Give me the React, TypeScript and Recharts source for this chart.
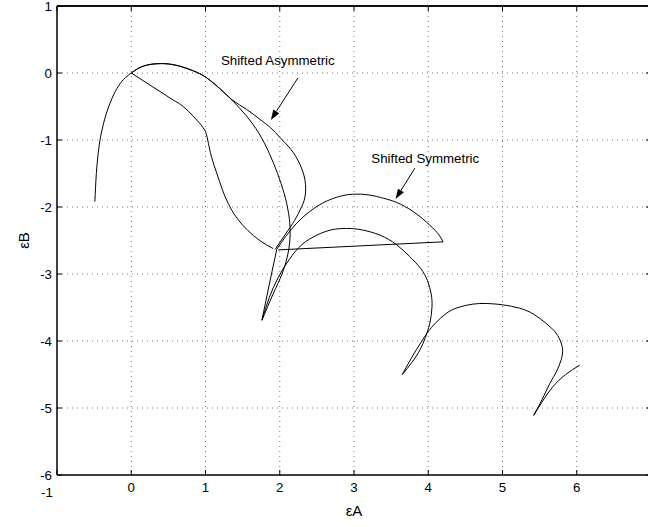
import React from 'react';
import { LineChart, Line, XAxis, YAxis, CartesianGrid, ReferenceLine, ReferenceDot } from 'recharts';

type Pt = { x: number; y: number };
const toPts = (a: number[][]): Pt[] => a.map(([x, y]) => ({ x, y }));

const xTicks = [-1, 0, 1, 2, 3, 4, 5, 6, 7];
const xTickLabels = [-1, 0, 1, 2, 3, 4, 5, 6];
const yTicks = [-6, -5, -4, -3, -2, -1, 0, 1];
const gridX = [0, 1, 2, 3, 4, 5, 6];
const gridY = [-5, -4, -3, -2, -1, 0];
const yMax = 1;

// main path: rise, arc, descending branch to first cusp
const mainRiseArc = toPts([
  [-0.49, -1.92], [-0.47, -1.5], [-0.44, -1.15], [-0.4, -0.88], [-0.34, -0.62], [-0.26, -0.38],
  [-0.17, -0.19], [-0.08, -0.07], [0, 0], [0.08, 0.06], [0.17, 0.105], [0.28, 0.132], [0.39, 0.14],
  [0.5, 0.135], [0.66, 0.1], [0.84, 0.03], [1.0, -0.06], [1.19, -0.23], [1.37, -0.42], [1.55, -0.64],
  [1.72, -0.9], [1.86, -1.2], [1.97, -1.5], [2.06, -1.8], [2.12, -2.1], [2.14, -2.4], [2.11, -2.7],
  [2.03, -3.0], [1.91, -3.3], [1.76, -3.69],
]);
const mainArch2 = toPts([
  [1.76, -3.69], [1.86, -3.35], [1.98, -3.05], [2.13, -2.78], [2.3, -2.56], [2.5, -2.42], [2.7, -2.34],
  [2.9, -2.32], [3.1, -2.34], [3.35, -2.42], [3.57, -2.56], [3.75, -2.74], [3.9, -2.92], [3.99, -3.1],
  [4.04, -3.3], [4.05, -3.5], [4.02, -3.74], [3.96, -3.95], [3.89, -4.13], [3.78, -4.32], [3.65, -4.5],
]);
const mainArch3 = toPts([
  [3.65, -4.5], [3.75, -4.3], [3.84, -4.13], [3.98, -3.89], [4.1, -3.73], [4.24, -3.59], [4.4, -3.5],
  [4.6, -3.45], [4.78, -3.44], [5.0, -3.46], [5.23, -3.51], [5.42, -3.6], [5.59, -3.74], [5.72, -3.88],
  [5.79, -4.03], [5.81, -4.15], [5.79, -4.28], [5.73, -4.45], [5.64, -4.63], [5.53, -4.88], [5.42, -5.11],
]);
const mainEnd = toPts([
  [5.42, -5.11], [5.55, -4.88], [5.68, -4.68], [5.85, -4.5], [6.04, -4.36],
]);

// shifted asymmetric loop
const asymOuter = toPts([
  [0, 0], [0.08, 0.06], [0.17, 0.105], [0.28, 0.132], [0.39, 0.14], [0.5, 0.135], [0.66, 0.1],
  [0.84, 0.03], [1.0, -0.06], [1.19, -0.23], [1.37, -0.41], [1.55, -0.54], [1.73, -0.69], [1.88, -0.82],
  [2.0, -0.96], [2.15, -1.14], [2.27, -1.36], [2.34, -1.6], [2.34, -1.85], [2.28, -2.03], [2.2, -2.2],
  [2.08, -2.4], [1.94, -2.63],
]);
const asymInnerA = toPts([[0, 0], [0.56, -0.4]]);
const asymInnerB = toPts([[0.56, -0.4], [0.7, -0.5], [0.83, -0.64], [0.93, -0.76], [1.0, -0.87]]);
const asymInnerC = toPts([
  [1.0, -0.87], [1.03, -1.0], [1.08, -1.25], [1.15, -1.49], [1.23, -1.75], [1.33, -2.0], [1.44, -2.19],
  [1.57, -2.35], [1.73, -2.5], [1.91, -2.62],
]);

// shifted symmetric loop
const symArc = toPts([
  [1.96, -2.63], [2.08, -2.44], [2.23, -2.24], [2.4, -2.07], [2.58, -1.94], [2.78, -1.85], [2.98, -1.81],
  [3.2, -1.82], [3.4, -1.87], [3.57, -1.93], [3.8, -2.07], [4.02, -2.27], [4.14, -2.41], [4.2, -2.52],
]);
const symBase = toPts([[4.2, -2.52], [1.98, -2.64]]);
const symLink = toPts([[1.76, -3.69], [1.86, -3.15], [1.96, -2.63]]);

const annotations = [
  { text: 'Shifted Asymmetric', tx: 1.974, ty: 0.194, from: { x: 2.244, y: -0.075 }, to: { x: 1.88, y: -0.7 } },
  { text: 'Shifted Symmetric', tx: 3.96, ty: -1.27, from: { x: 3.82, y: -1.42 }, to: { x: 3.56, y: -1.88 } },
];

const FONT = '"Liberation Sans", Arial, Helvetica, sans-serif';
const FS = 13.3;

// layout constants
const CHART_W = 660;
const CHART_H = 527;
const MARGIN = { top: 6, right: 9, bottom: 0, left: 0 };
const Y_AXIS_W = 57;
const X_AXIS_H = 52;
const PLOT_W = CHART_W - MARGIN.left - MARGIN.right - Y_AXIS_W;
const PLOT_H = CHART_H - MARGIN.top - MARGIN.bottom - X_AXIS_H;

const BottomTick = (props: any) => {
  const { x, y, payload } = props;
  const v = payload.value;
  const dx = v === -1 ? -10 : 0;
  const dy = v === -1 ? 5 : 0;
  const top = y - PLOT_H;
  return (
    <g>
      <line x1={x} x2={x} y1={y} y2={y - 5} stroke="#000" strokeWidth={1} />
      <line x1={x} x2={x} y1={top} y2={top + 5} stroke="#000" strokeWidth={1} />
      {xTickLabels.includes(v) && (
        <text x={x + dx} y={y + 17 + dy} textAnchor="middle" fontSize={FS} fontFamily={FONT} fill="#000">{v}</text>
      )}
    </g>
  );
};
const LeftTick = (props: any) => {
  const { x, y, payload } = props;
  const right = x + PLOT_W;
  return (
    <g>
      <line x1={x} x2={x + 5} y1={y} y2={y} stroke="#000" strokeWidth={1} />
      <line x1={right} x2={right - 5} y1={y} y2={y} stroke="#000" strokeWidth={1} />
      {payload.value === yMax && (
        <line x1={x} x2={right} y1={y} y2={y} stroke="#000" strokeWidth={1.5} />
      )}
      <text x={x - 5} y={y + 4.5} textAnchor="end" fontSize={FS} fontFamily={FONT} fill="#000">{payload.value}</text>
    </g>
  );
};

const Arrow = (props: any) => {
  const { x1, y1, x2, y2 } = props;
  const ang = Math.atan2(y2 - y1, x2 - x1);
  const L = 10, W = 3.5;
  const bx = x2 - L * Math.cos(ang), by = y2 - L * Math.sin(ang);
  const px = -Math.sin(ang) * W, py = Math.cos(ang) * W;
  return (
    <g>
      <line x1={x1} y1={y1} x2={bx} y2={by} stroke="#000" strokeWidth={1} />
      <polygon points={`${x2},${y2} ${bx + px},${by + py} ${bx - px},${by - py}`} fill="#000" />
    </g>
  );
};

const series = [mainRiseArc, mainArch2, mainArch3, mainEnd, asymOuter, asymInnerB, asymInnerC, symArc];
const straight = [asymInnerA, symBase, symLink];

export default function App() {
  return (
    <div style={{ position: 'absolute', left: 0, top: 0, width: 648, height: 527, overflow: 'hidden', background: '#fff' }}>
      <LineChart width={CHART_W} height={CHART_H} margin={MARGIN}>
        <CartesianGrid
          stroke="#777"
          strokeDasharray="1 4"
          strokeWidth={1}
          horizontalValues={gridY}
          verticalValues={gridX}
        />
        <XAxis
          type="number"
          dataKey="x"
          domain={[-1, 7]}
          ticks={xTicks}
          interval={0}
          height={X_AXIS_H}
          tickSize={0}
          tickMargin={0}
          tickLine={false}
          tick={<BottomTick />}
          axisLine={{ stroke: '#000', strokeWidth: 1.5 }}
          label={{ value: 'εA', position: 'insideBottom', offset: 11, fontSize: 15, fill: '#000', fontFamily: FONT }}
        />
        <YAxis
          type="number"
          dataKey="y"
          domain={[-6, 1]}
          ticks={yTicks}
          interval={0}
          width={Y_AXIS_W}
          tickSize={0}
          tickMargin={0}
          tickLine={false}
          tick={<LeftTick />}
          axisLine={{ stroke: '#000', strokeWidth: 1.5 }}
          label={{ value: 'εB', angle: -90, position: 'insideLeft', offset: 24, fontSize: 15, fill: '#000', fontFamily: FONT, style: { textAnchor: 'middle' } }}
        />
        <ReferenceLine y={yMax} stroke="#000" strokeWidth={1.5} ifOverflow="visible" />
        {series.map((d, i) => (
          <Line key={'s' + i} data={d} dataKey="y" type="natural" stroke="#000" strokeWidth={1} dot={false} activeDot={false} isAnimationActive={false} />
        ))}
        {straight.map((d, i) => (
          <Line key={'l' + i} data={d} dataKey="y" type="linear" stroke="#000" strokeWidth={1} dot={false} activeDot={false} isAnimationActive={false} />
        ))}
        {annotations.map((a, i) => (
          <ReferenceLine key={'a' + i} segment={[a.from, a.to]} shape={(p: any) => <Arrow {...p} />} />
        ))}
        {annotations.map((a, i) => (
          <ReferenceDot
            key={'t' + i}
            x={a.tx}
            y={a.ty}
            r={0}
            shape={(p: any) => (
              <text x={p.cx} y={p.cy + 4.5} textAnchor="middle" fontSize={FS} fontFamily={FONT} fill="#000">{a.text}</text>
            )}
          />
        ))}
      </LineChart>
    </div>
  );
}
